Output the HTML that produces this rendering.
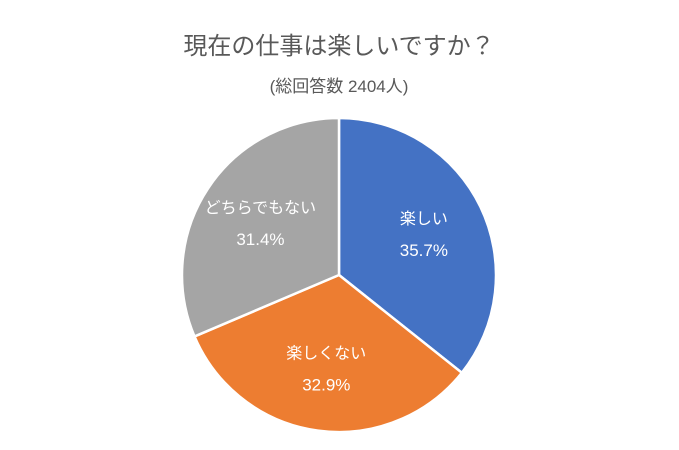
<!DOCTYPE html>
<html><head><meta charset="utf-8"><style>
body{margin:0;background:#fff;}
svg{display:block;font-family:"Liberation Sans","Noto Sans CJK JP",sans-serif;}
</style></head><body>
<svg width="679" height="450" viewBox="0 0 679 450">
<text x="339" y="54" text-anchor="middle" font-size="24" fill="#595959">現在の仕事は楽しいですか？</text>
<text x="339" y="92" text-anchor="middle" font-size="17" fill="#595959">(総回答数 2404人)</text>
<g id="slices"></g>
<g id="labels"></g>
</svg>
<script>
const categories=["楽しい","楽しくない","どちらでもない"];
const values=[35.7,32.9,31.4];
const valueLabels=["35.7%","32.9%","31.4%"];
const colors=["#4472C4","#ED7D31","#A5A5A5"];
const cx=339,cy=275,r=157;
const total=values.reduce((a,b)=>a+b,0);
const ns="http://www.w3.org/2000/svg";
const gs=document.getElementById('slices'),gl=document.getElementById('labels');
function pt(a,rr){return [cx+rr*Math.sin(a),cy-rr*Math.cos(a)];}
let acc=0;
values.forEach((v,i)=>{
  const a0=acc/total*2*Math.PI;acc+=v;const a1=acc/total*2*Math.PI;
  const p0=pt(a0,r),p1=pt(a1,r);
  const large=(a1-a0)>Math.PI?1:0;
  const p=document.createElementNS(ns,'path');
  p.setAttribute('d',`M${cx},${cy}L${p0[0]},${p0[1]}A${r},${r} 0 ${large} 1 ${p1[0]},${p1[1]}Z`);
  p.setAttribute('fill',colors[i]);p.setAttribute('stroke','#fff');p.setAttribute('stroke-width','2.5');
  
  
  gs.appendChild(p);
  const m=(a0+a1)/2;const lp=pt(m,r*0.6);
  const t1=document.createElementNS(ns,'text');
  t1.setAttribute('x',lp[0]);t1.setAttribute('y',lp[1]-10);t1.setAttribute('text-anchor','middle');
  t1.setAttribute('font-size','16');t1.setAttribute('fill','#fff');t1.textContent=categories[i];
  
  
  gl.appendChild(t1);
  const t2=document.createElementNS(ns,'text');
  t2.setAttribute('x',lp[0]);t2.setAttribute('y',lp[1]+22);t2.setAttribute('text-anchor','middle');
  t2.setAttribute('font-size','17');t2.setAttribute('fill','#fff');t2.textContent=valueLabels[i];
  
  
  gl.appendChild(t2);
});
</script>
</body></html>
